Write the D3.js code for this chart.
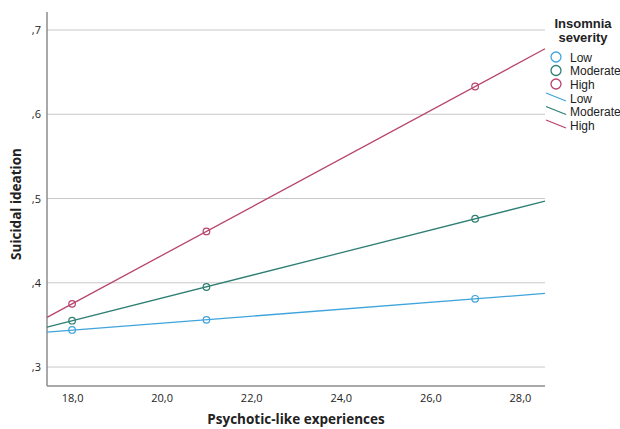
<!DOCTYPE html>
<html>
<head>
<meta charset="utf-8">
<script src="https://cdn.jsdelivr.net/npm/d3@7"></script>
<style>
  body { margin: 0; background: #fff; }
  text { font-family: "Open Sans", "Liberation Sans", sans-serif; fill: #222; }
  .tick-label { font-size: 11px; }
  .axis-title { font-size: 13.5px; font-weight: 700; }
  .legend-title { font-family: "Liberation Sans", sans-serif; font-size: 13px; font-weight: 700; }
  .legend-text { font-family: "Liberation Sans", sans-serif; font-size: 12px; }
</style>
</head>
<body>
<div id="chart"></div>
<script>
(() => {
  const width = 620;
  const height = 429;

  // values
  const groups = ['Low', 'Moderate', 'High'];
  const groupColors = ['#3fa4dc', '#2f7f74', '#b8436f'];
  const pleValues = [18, 21, 27];
  const lowValues = [0.344, 0.356, 0.381];
  const moderateValues = [0.355, 0.395, 0.476];
  const highValues = [0.375, 0.461, 0.633];
  const xTicks = [18, 20, 22, 24, 26, 28];
  const yTicks = [0.3, 0.4, 0.5, 0.6, 0.7];

  const seriesValues = [lowValues, moderateValues, highValues];
  const series = groups.map((g, i) => ({
    name: g,
    color: groupColors[i],
    points: pleValues.map((x, j) => ({ x, y: seriesValues[i][j] }))
  }));

  const plot = { left: 47, right: 545, top: 12, bottom: 386 };

  const x = d3.scaleLinear().domain([17.44, 28.56]).range([plot.left, plot.right]);
  const y = d3.scaleLinear().domain([0.2775, 0.7214]).range([plot.bottom, plot.top]);

  const svg = d3.select('#chart').append('svg')
    .attr('width', width)
    .attr('height', height);

  // gridlines
  svg.append('g')
    .selectAll('line')
    .data(yTicks)
    .join('line')
    .attr('x1', plot.left)
    .attr('x2', plot.right)
    .attr('y1', d => y(d))
    .attr('y2', d => y(d))
    .attr('stroke', '#c8c8c8')
    .attr('stroke-width', 1);

  // axes
  const fmt = d => d3.format('.1f')(d).replace('.', ',').replace(/^0/, '');

  const yAxis = svg.append('g')
    .attr('transform', `translate(${plot.left},0)`)
    .call(d3.axisLeft(y).tickValues(yTicks).tickSize(0).tickPadding(6).tickFormat(fmt));
  yAxis.select('.domain').remove();
  yAxis.selectAll('text').attr('class', 'tick-label').attr('font-family', null).attr('font-size', null);

  const xAxis = svg.append('g')
    .attr('transform', `translate(0,${plot.bottom})`)
    .call(d3.axisBottom(x).tickValues(xTicks).tickSize(0).tickPadding(8).tickFormat(fmt));
  xAxis.select('.domain').remove();
  xAxis.selectAll('text').attr('class', 'tick-label').attr('font-family', null).attr('font-size', null);

  svg.append('line')
    .attr('x1', plot.left).attr('x2', plot.left)
    .attr('y1', plot.top).attr('y2', plot.bottom)
    .attr('stroke', '#8c8c8c').attr('stroke-width', 1.5);
  svg.append('line')
    .attr('x1', plot.left).attr('x2', plot.right)
    .attr('y1', plot.bottom).attr('y2', plot.bottom)
    .attr('stroke', '#8c8c8c').attr('stroke-width', 1.5);

  // fit lines across the full x range
  function linearRegression(points) {
    const n = points.length;
    const sx = d3.sum(points, p => p.x);
    const sy = d3.sum(points, p => p.y);
    const sxy = d3.sum(points, p => p.x * p.y);
    const sxx = d3.sum(points, p => p.x * p.x);
    const slope = (n * sxy - sx * sy) / (n * sxx - sx * sx);
    const intercept = (sy - slope * sx) / n;
    return v => slope * v + intercept;
  }

  const [x0, x1] = x.domain();
  series.forEach(s => {
    const fit = linearRegression(s.points);
    svg.append('line')
      .attr('x1', x(x0)).attr('y1', y(fit(x0)))
      .attr('x2', x(x1)).attr('y2', y(fit(x1)))
      .attr('stroke', s.color)
      .attr('stroke-width', 1.3);
  });

  series.forEach(s => {
    svg.append('g')
      .selectAll('circle')
      .data(s.points)
      .join('circle')
      .attr('cx', d => x(d.x))
      .attr('cy', d => y(d.y))
      .attr('r', 3.3)
      .attr('fill', 'none')
      .attr('stroke', s.color)
      .attr('stroke-width', 1.2);
  });

  // axis titles
  svg.append('text')
    .attr('class', 'axis-title')
    .attr('x', 296)
    .attr('y', 424)
    .attr('text-anchor', 'middle')
    .text('Psychotic-like experiences');

  svg.append('text')
    .attr('class', 'axis-title')
    .attr('transform', `translate(21,${(plot.top + plot.bottom) / 2 + 5}) rotate(-90)`)
    .attr('text-anchor', 'middle')
    .text('Suicidal ideation');

  // legend
  const legend = svg.append('g');
  legend.append('text')
    .attr('class', 'legend-title')
    .attr('x', 583).attr('y', 28)
    .attr('text-anchor', 'middle')
    .text('Insomnia');
  legend.append('text')
    .attr('class', 'legend-title')
    .attr('x', 583).attr('y', 42)
    .attr('text-anchor', 'middle')
    .text('severity');

  const markerRows = [57, 70.5, 84];
  const lineRows = [98, 111.5, 125];
  series.forEach((s, i) => {
    legend.append('circle')
      .attr('cx', 556).attr('cy', markerRows[i])
      .attr('r', 5)
      .attr('fill', 'none')
      .attr('stroke', s.color)
      .attr('stroke-width', 1.3);
    legend.append('text')
      .attr('class', 'legend-text')
      .attr('x', 570).attr('y', markerRows[i] + 4.5)
      .text(s.name);

    legend.append('line')
      .attr('x1', 546).attr('y1', lineRows[i] - 5)
      .attr('x2', 566).attr('y2', lineRows[i] + 3)
      .attr('stroke', s.color)
      .attr('stroke-width', 1.3);
    legend.append('text')
      .attr('class', 'legend-text')
      .attr('x', 570).attr('y', lineRows[i] + 4.5)
      .text(s.name);
  });
})();
</script>
</body>
</html>
